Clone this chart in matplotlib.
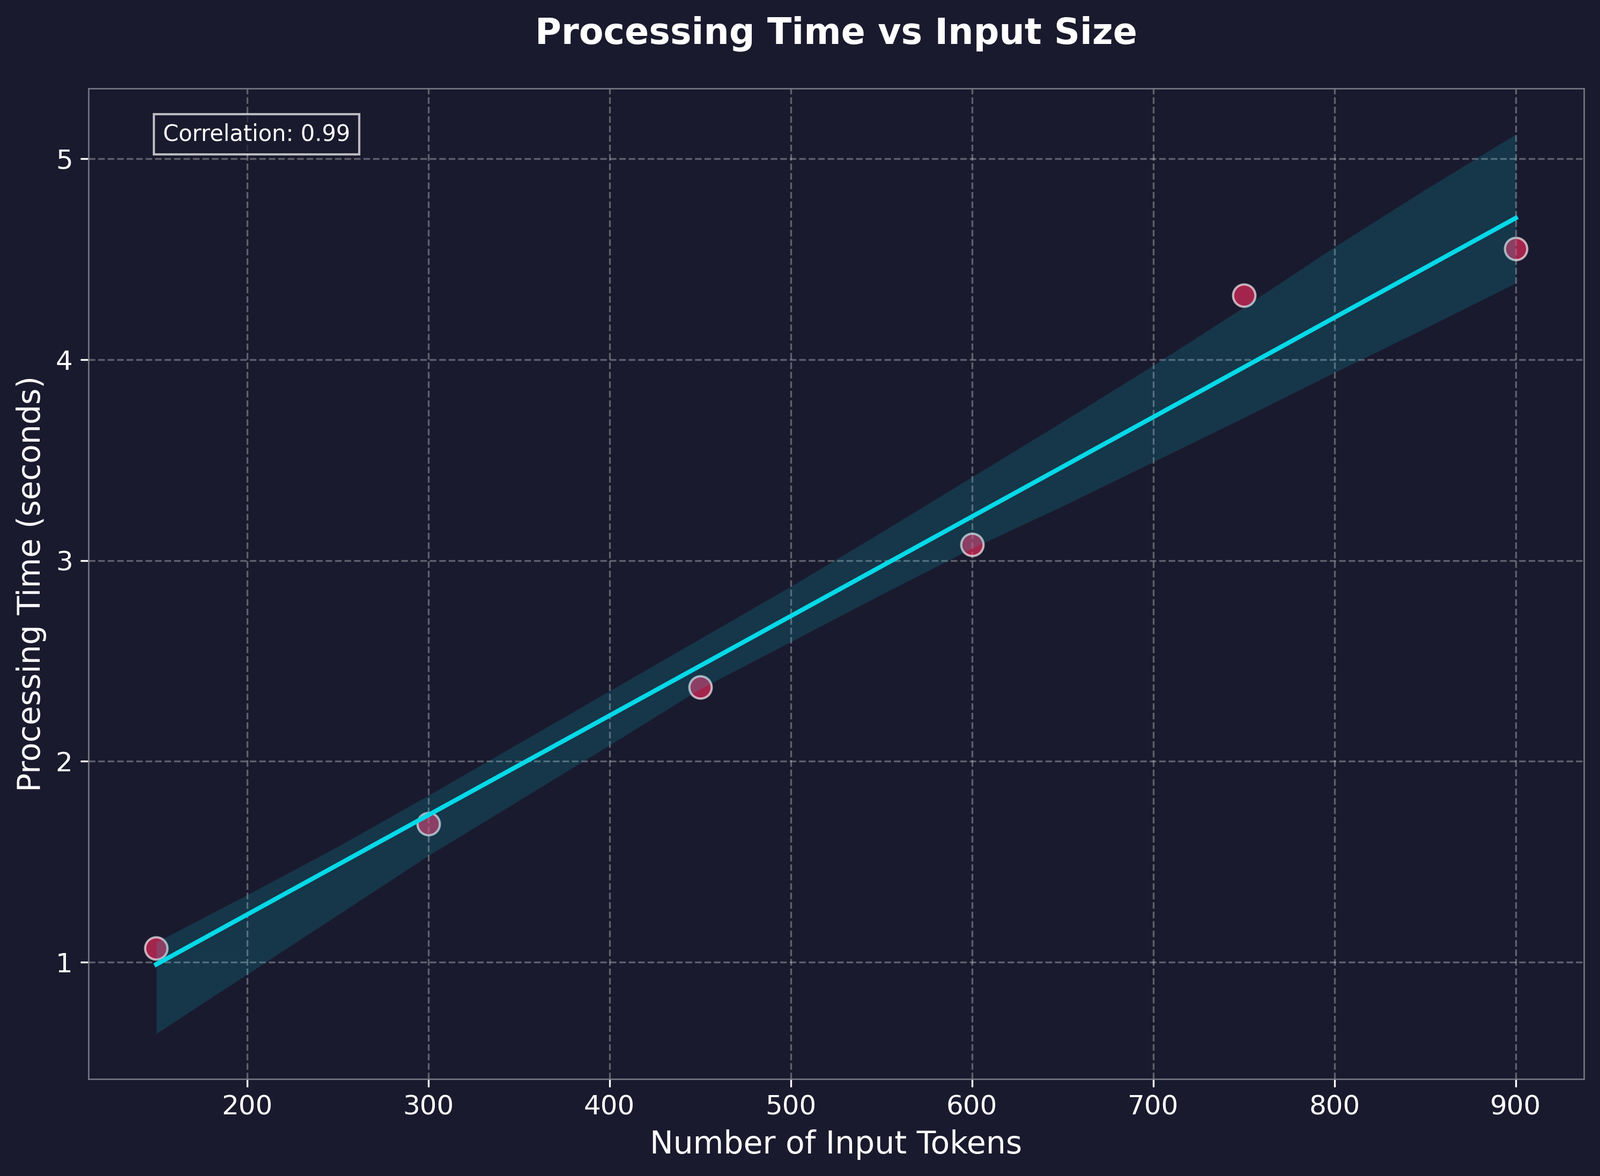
import numpy as np
import matplotlib
matplotlib.use("Agg")
import matplotlib.pyplot as plt

# Data
tokens = [150, 300, 450, 600, 750, 900]
proc_time = [1.07, 1.69, 2.37, 3.08, 4.32, 4.55]

# Confidence band edges
band_x = [150, 200, 250, 300, 350, 400, 450, 500, 550, 600, 650, 700, 750, 800, 850, 900]
band_upper = [1.10, 1.335, 1.575, 1.83, 2.09, 2.35, 2.61, 2.87, 3.14, 3.415, 3.69, 3.97, 4.26, 4.56, 4.845, 5.12]
band_lower = [0.645, 0.94, 1.235, 1.53, 1.805, 2.08, 2.36, 2.595, 2.83, 3.06, 3.27, 3.49, 3.71, 3.935, 4.155, 4.38]

BG = "#1a1a2e"
LINE = "#05d9e8"

fig = plt.figure(figsize=(2984 / 300, 2194 / 300), dpi=300, facecolor=BG)
ax = fig.add_axes([0.0552, 0.0826, 0.9898 - 0.0552, 0.925 - 0.0826])
ax.set_facecolor(BG)

x = np.array(tokens, dtype=float)
y = np.array(proc_time, dtype=float)

ax.scatter(x, y, s=100, facecolor=(1.0, 0.18, 0.388, 0.6),
           edgecolor=(1, 1, 1, 0.65), linewidths=1.0, zorder=2)

slope, intercept = np.polyfit(x, y, 1)
xl = np.linspace(x.min(), x.max(), 100)
ax.fill_between(band_x, band_lower, band_upper, color=LINE, alpha=0.15,
                linewidth=0, zorder=3)
ax.plot(xl, slope * xl + intercept, color=LINE, lw=2, zorder=4)

r = np.corrcoef(x, y)[0, 1]
ax.text(0.05, 0.965, f"Correlation: {r:.2f}", transform=ax.transAxes,
        va="top", ha="left", color="white", fontsize=10,
        bbox=dict(facecolor=BG, edgecolor="white", alpha=0.7))

ax.set_xlim(112.5, 937.5)
ax.set_ylim(0.42, 5.35)
ax.set_xticks([200, 300, 400, 500, 600, 700, 800, 900])
ax.set_yticks([1, 2, 3, 4, 5])

ax.grid(True, linestyle="--", color="white", alpha=0.3, linewidth=0.8)
ax.set_axisbelow(True)

for sp in ax.spines.values():
    sp.set_color("#7a7a88")
    sp.set_linewidth(0.6)

ax.tick_params(colors="white", labelsize=12, length=3.5, width=0.8)

ax.set_title("Processing Time vs Input Size", fontsize=16, fontweight="bold",
             color="white", pad=20)
ax.set_xlabel("Number of Input Tokens", fontsize=14, color="white")
ax.set_ylabel("Processing Time (seconds)", fontsize=14, color="white")

fig.savefig("out.png", dpi=300, facecolor=BG)
